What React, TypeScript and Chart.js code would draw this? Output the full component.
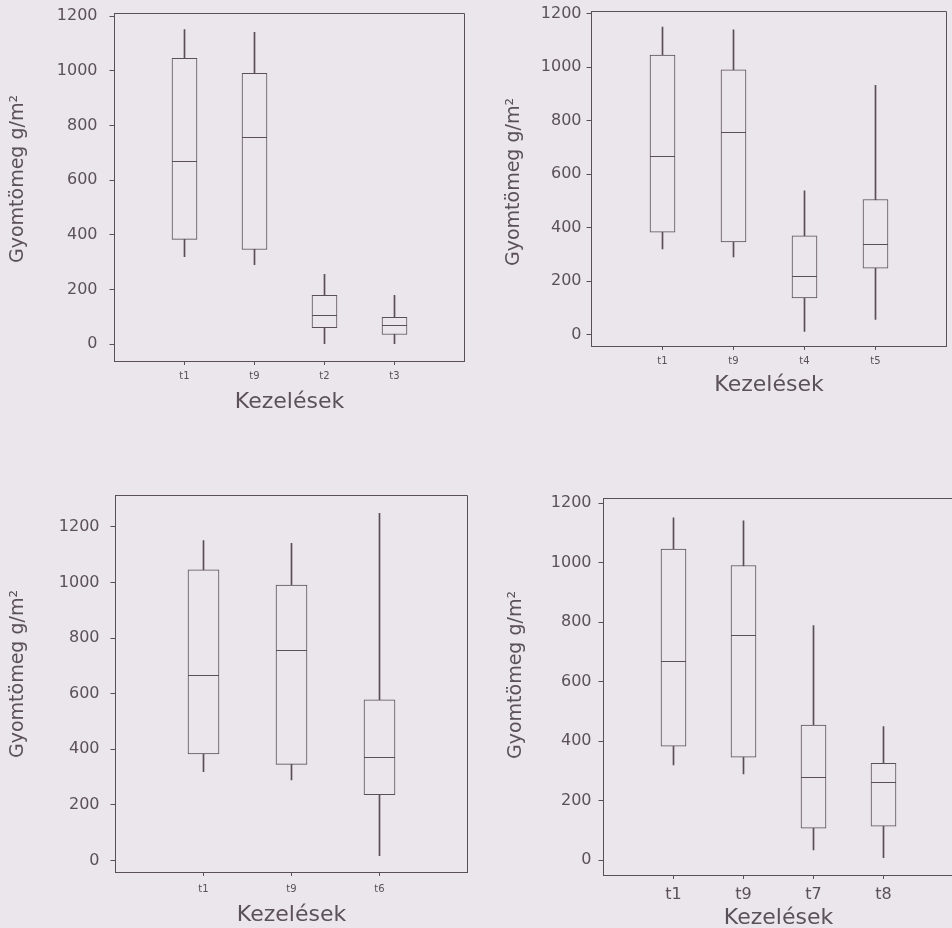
import React, { useEffect, useRef } from 'react';
import { Chart, registerables } from 'chart.js';

Chart.register(...registerables);

// ---------------- data ----------------
const treatments = ['t1', 't9', 't2', 't3', 't4', 't5', 't6', 't7', 't8'];
const whiskerLow = [320, 290, 0, 0, 12, 56, 18, 34, 8];
const quartile1 = [383, 346, 60, 35, 137, 248, 237, 107, 114];
const medians = [668, 758, 105, 70, 218, 338, 374, 278, 261];
const quartile3 = [1045, 990, 178, 98, 369, 505, 578, 454, 325];
const whiskerHigh = [1150, 1140, 255, 178, 537, 932, 1248, 788, 449];

const panel1Groups = ['t1', 't9', 't2', 't3'];
const panel2Groups = ['t1', 't9', 't4', 't5'];
const panel3Groups = ['t1', 't9', 't6'];
const panel4Groups = ['t1', 't9', 't7', 't8'];

const yTickValues = [0, 200, 400, 600, 800, 1000, 1200];
const yTitle = 'Gyomtömeg g/m²';
const xTitle = 'Kezelések';

// ---------------- style ----------------
const LINE = '#5a4e57';
const TEXT = '#5b5159';
const BG = '#ebe5ec';
const FONT = "'DejaVu Sans', 'Liberation Sans', sans-serif";

type PanelLayout = {
  groups: string[];
  left: number;
  top: number;
  width: number;
  height: number;
  padT: number;
  padR: number;
  yW: number;
  xH: number;
  yMin: number;
  yMax: number;
  boxW: number;
  yTickPad: number;
  xTickPad: number;
  xTickSize: number;
  yTitleX: number;
  yTitleY: number;
  xTitlePad: number;
  rightFrame: boolean;
};

const panels: PanelLayout[] = [
  { groups: panel1Groups, left: 0, top: 0, width: 476, height: 420, padT: 13, padR: 11.5, yW: 114.5, xH: 59,
    yMin: -62, yMax: 1211, boxW: 25, yTickPad: 12, xTickPad: 5, xTickSize: 10, yTitleX: 18, yTitleY: 179, xTitlePad: 5, rightFrame: true },
  { groups: panel2Groups, left: 476, top: 0, width: 476, height: 420, padT: 11, padR: 5.5, yW: 115.5, xH: 74,
    yMin: -43, yMax: 1210, boxW: 25, yTickPad: 5, xTickPad: 5, xTickSize: 10, yTitleX: 38, yTitleY: 182, xTitlePad: 22, rightFrame: true },
  { groups: panel3Groups, left: 0, top: 460, width: 476, height: 472, padT: 35, padR: 8.5, yW: 115.5, xH: 60,
    yMin: -41, yMax: 1314, boxW: 31, yTickPad: 11, xTickPad: 7, xTickSize: 10, yTitleX: 18, yTitleY: 214, xTitlePad: 4, rightFrame: true },
  { groups: panel4Groups, left: 476, top: 460, width: 478, height: 472, padT: 38, padR: 0.5, yW: 127.5, xH: 57,
    yMin: -50, yMax: 1217, boxW: 25, yTickPad: 7, xTickPad: 6, xTickSize: 16, yTitleX: 40, yTitleY: 215, xTitlePad: 1, rightFrame: false },
];

function makePlugin(L: PanelLayout, medianValues: (number | null)[]) {
  return {
    id: 'boxExtras',
    afterDatasetsDraw(chart: any) {
      const { ctx } = chart;
      const yScale = chart.scales.y;
      const meta = chart.getDatasetMeta(0);
      ctx.save();
      ctx.strokeStyle = LINE;
      ctx.lineWidth = 1;
      meta.data.forEach((el: any, i: number) => {
        const m = medianValues[i];
        if (m === null || m === undefined) return;
        const y = Math.round(yScale.getPixelForValue(m)) + 0.5;
        const half = L.boxW / 2;
        ctx.beginPath();
        ctx.moveTo(el.x - half, y);
        ctx.lineTo(el.x + half, y);
        ctx.stroke();
      });
      ctx.restore();
    },
    afterDraw(chart: any) {
      const { ctx, chartArea } = chart;
      const { left, top, right, bottom } = chartArea;
      const xs = chart.scales.x;
      ctx.save();
      ctx.strokeStyle = LINE;
      ctx.lineWidth = 1;
      const t = Math.round(top) + 0.5;
      const r = Math.floor(right) + 0.5;
      ctx.beginPath();
      ctx.moveTo(left, t);
      ctx.lineTo(L.rightFrame ? r : chart.width, t);
      if (L.rightFrame) {
        ctx.lineTo(r, bottom);
      }
      ctx.stroke();
      // tick marks below the category axis
      const n = chart.data.labels.length;
      ctx.beginPath();
      for (let i = 1; i < n - 1; i++) {
        const x = Math.floor(xs.getPixelForValue(i)) + 0.5;
        ctx.moveTo(x, Math.round(bottom));
        ctx.lineTo(x, Math.round(bottom) + 4);
      }
      ctx.stroke();
      // rotated y-axis title
      ctx.translate(L.yTitleX, L.yTitleY);
      ctx.rotate(-Math.PI / 2);
      ctx.fillStyle = TEXT;
      ctx.font = `19px ${FONT}`;
      ctx.textAlign = 'center';
      ctx.textBaseline = 'middle';
      ctx.fillText(yTitle, 0, 0);
      ctx.restore();
    },
  };
}

function BoxPanel({ L }: { L: PanelLayout }) {
  const ref = useRef<HTMLCanvasElement | null>(null);
  useEffect(() => {
    if (!ref.current) return;
    const idx = L.groups.map((t) => treatments.indexOf(t));
    const labels = ['', ...L.groups, ''];
    const boxData: any[] = [null, ...idx.map((i) => [quartile1[i], quartile3[i]]), null];
    const whiskerData: any[] = [null, ...idx.map((i) => [whiskerLow[i], whiskerHigh[i]]), null];
    const medianData: (number | null)[] = [null, ...idx.map((i) => medians[i]), null];

    const chart = new Chart(ref.current, {
      type: 'bar',
      data: {
        labels,
        datasets: [
          {
            label: 'box',
            data: boxData,
            backgroundColor: BG,
            borderColor: LINE,
            borderWidth: 1,
            borderSkipped: false,
            barThickness: L.boxW,
            maxBarThickness: L.boxW,
            grouped: false,
            order: 0,
          } as any,
          {
            label: 'whisker',
            data: whiskerData,
            backgroundColor: LINE,
            borderWidth: 0,
            barThickness: 1,
            maxBarThickness: 1,
            grouped: false,
            order: 1,
          } as any,
        ],
      },
      options: {
        animation: false,
        responsive: false,
        maintainAspectRatio: false,
        devicePixelRatio: 1,
        layout: { padding: { left: 0, top: L.padT, right: L.padR, bottom: 0 } },
        plugins: {
          legend: { display: false },
          tooltip: { enabled: false },
        },
        scales: {
          x: {
            type: 'category',
            offset: false,
            grid: {
              display: true,
              offset: false,
              drawOnChartArea: false,
              drawTicks: true,
              tickLength: 4,
              color: 'rgba(0,0,0,0)',
              tickColor: 'rgba(0,0,0,0)',
            },
            border: { display: true, color: LINE, width: 1 },
            ticks: {
              font: { family: FONT, size: L.xTickSize },
              color: TEXT,
              padding: L.xTickPad,
              maxRotation: 0,
              autoSkip: false,
            },
            title: {
              display: true,
              text: xTitle,
              font: { family: FONT, size: 22 },
              color: TEXT,
              padding: { top: 0, bottom: L.xTitlePad },
            },
            afterFit: (s: any) => {
              s.height = L.xH;
              s.paddingLeft = 0;
              s.paddingRight = 0;
            },
          } as any,
          y: {
            type: 'linear',
            min: L.yMin,
            max: L.yMax,
            afterBuildTicks: (s: any) => {
              s.ticks = yTickValues.map((v) => ({ value: v }));
            },
            grid: {
              display: true,
              drawOnChartArea: false,
              drawTicks: true,
              tickLength: 5,
              color: LINE,
            },
            border: { display: true, color: LINE, width: 1 },
            ticks: {
              font: { family: FONT, size: 16 },
              color: TEXT,
              padding: L.yTickPad,
              callback: (v: any) => String(v),
            },
            title: { display: false },
            afterFit: (s: any) => {
              s.width = L.yW;
              s.paddingTop = 0;
              s.paddingBottom = 0;
            },
          } as any,
        },
      },
      plugins: [makePlugin(L, medianData)],
    });
    return () => chart.destroy();
  }, [L]);

  return (
    <canvas
      ref={ref}
      width={L.width}
      height={L.height}
      style={{
        position: 'absolute',
        left: L.left,
        top: L.top,
        width: L.width,
        height: L.height,
      }}
    />
  );
}

export default function App() {
  return (
    <div
      style={{
        position: 'fixed',
        left: 0,
        top: 0,
        width: 952,
        height: 928,
        background: BG,
        overflow: 'hidden',
      }}
    >
      {panels.map((L, i) => (
        <BoxPanel key={i} L={L} />
      ))}
    </div>
  );
}
